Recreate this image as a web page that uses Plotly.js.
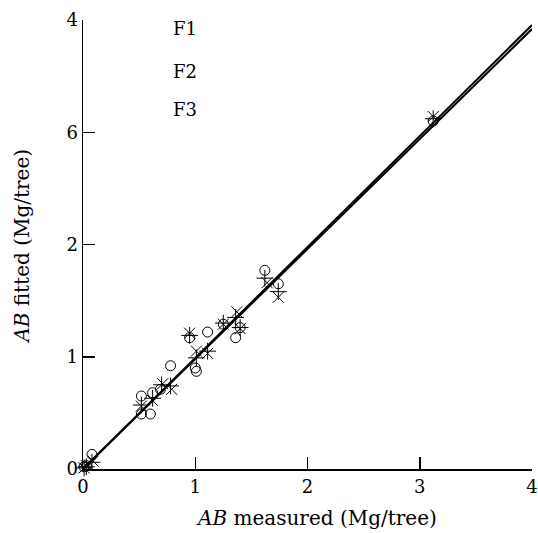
<!DOCTYPE html>
<html>
<head>
<meta charset="utf-8">
<script src="https://cdn.plot.ly/plotly-3.0.1.min.js"></script>
<style>html,body{margin:0;padding:0;background:#fff;}#chart{width:538px;height:533px;}</style>
</head>
<body>
<div id="chart"></div>
<script>
// F1 (circles)
var f1X = [0.01, 0.03, 0.08, 0.52, 0.52, 0.60, 0.62, 0.69, 0.78, 0.95, 1.00, 1.01, 1.11, 1.25, 1.36, 1.40, 1.62, 1.74, 3.12];
var f1Y = [0.02, 0.03, 0.13, 0.65, 0.49, 0.49, 0.68, 0.71, 0.92, 1.17, 0.90, 0.87, 1.22, 1.29, 1.17, 1.26, 1.77, 1.65, 3.10];
// F2 (plus)
var f2X = [0.01, 0.03, 0.08, 0.52, 0.62, 0.70, 0.78, 0.95, 1.01, 1.11, 1.25, 1.36, 1.40, 1.62, 1.74, 3.12];
var f2Y = [0.01, 0.02, 0.06, 0.57, 0.63, 0.75, 0.74, 1.19, 0.99, 1.05, 1.30, 1.35, 1.26, 1.70, 1.58, 3.12];
// F3 (x)
var f3X = [0.01, 0.03, 0.09, 0.52, 0.62, 0.71, 0.79, 0.95, 1.01, 1.11, 1.25, 1.37, 1.40, 1.64, 1.74, 3.12];
var f3Y = [0.01, 0.03, 0.07, 0.56, 0.61, 0.76, 0.71, 1.21, 1.05, 1.03, 1.29, 1.40, 1.25, 1.66, 1.53, 3.14];
// fitted lines
var lineX = [0, 4];
var lineAY = [0, 3.955];
var lineBY = [0, 3.92];
var seriesNames = ['F1', 'F2', 'F3'];
var xTickVals = [0, 1, 2, 3, 4];
var xTickText = ['0', '1', '2', '3', '4'];
var yTickVals = [0, 1, 2, 3, 4];
var yTickText = ['0', '1', '2', '6', '4'];
var xTitle = '<i>AB</i> measured (Mg/tree)';
var yTitle = '<i>AB</i> fitted (Mg/tree)';

var FONT = 'DejaVu Serif, serif';
var mk = function (sym, size) {
  return {symbol: sym, size: size, color: '#000', line: {color: '#000', width: 1}};
};
var traces = [
  {x: lineX, y: lineAY, mode: 'lines', line: {color: '#000', width: 2}, showlegend: false, hoverinfo: 'skip', cliponaxis: false},
  {x: lineX, y: lineBY, mode: 'lines', line: {color: '#000', width: 2}, showlegend: false, hoverinfo: 'skip', cliponaxis: false},
  {x: f1X, y: f1Y, mode: 'markers', name: seriesNames[0], marker: mk('circle-open', 10), cliponaxis: false},
  {x: f2X, y: f2Y, mode: 'markers', name: seriesNames[1], marker: mk('cross-thin-open', 12), cliponaxis: false},
  {x: f3X, y: f3Y, mode: 'markers', name: seriesNames[2], marker: mk('x-thin-open', 11), cliponaxis: false}
];
var annots = seriesNames.map(function (n, i) {
  return {text: n, xref: 'paper', yref: 'paper', x: 0.195, y: [0.98, 0.885, 0.8][i],
    xanchor: 'left', yanchor: 'middle', showarrow: false, font: {family: FONT, size: 18, color: '#000'}};
});
annots.push({text: xTitle, xref: 'paper', yref: 'paper', x: 0.521, y: -0.109,
  xanchor: 'center', yanchor: 'middle', showarrow: false, font: {family: FONT, size: 20, color: '#000'}});
annots.push({text: yTitle, xref: 'paper', yref: 'paper', x: -0.136, y: 0.497, textangle: -90,
  xanchor: 'center', yanchor: 'middle', showarrow: false, font: {family: FONT, size: 20, color: '#000'}});
var layout = {
  width: 538, height: 533,
  margin: {l: 83, r: 6, t: 20, b: 64},
  paper_bgcolor: '#fff', plot_bgcolor: '#fff',
  showlegend: false,
  font: {family: FONT, size: 17, color: '#000'},
  xaxis: {
    range: [0, 4], tickvals: xTickVals, ticktext: xTickText,
    showgrid: false, zeroline: false, showline: true, linecolor: '#000', linewidth: 2,
    ticks: 'inside', ticklen: 12, tickwidth: 1.5, tickcolor: '#000',
    tickfont: {family: FONT, size: 18}, fixedrange: true
  },
  yaxis: {
    range: [0, 4], tickvals: yTickVals, ticktext: yTickText,
    showgrid: false, zeroline: false, showline: true, linecolor: '#000', linewidth: 1.5,
    ticks: 'inside', ticklen: 12, tickwidth: 1.5, tickcolor: '#000',
    tickfont: {family: FONT, size: 18}, fixedrange: true
  },
  annotations: annots
};
Plotly.newPlot('chart', traces, layout, {displayModeBar: false, staticPlot: true});
</script>
</body>
</html>
